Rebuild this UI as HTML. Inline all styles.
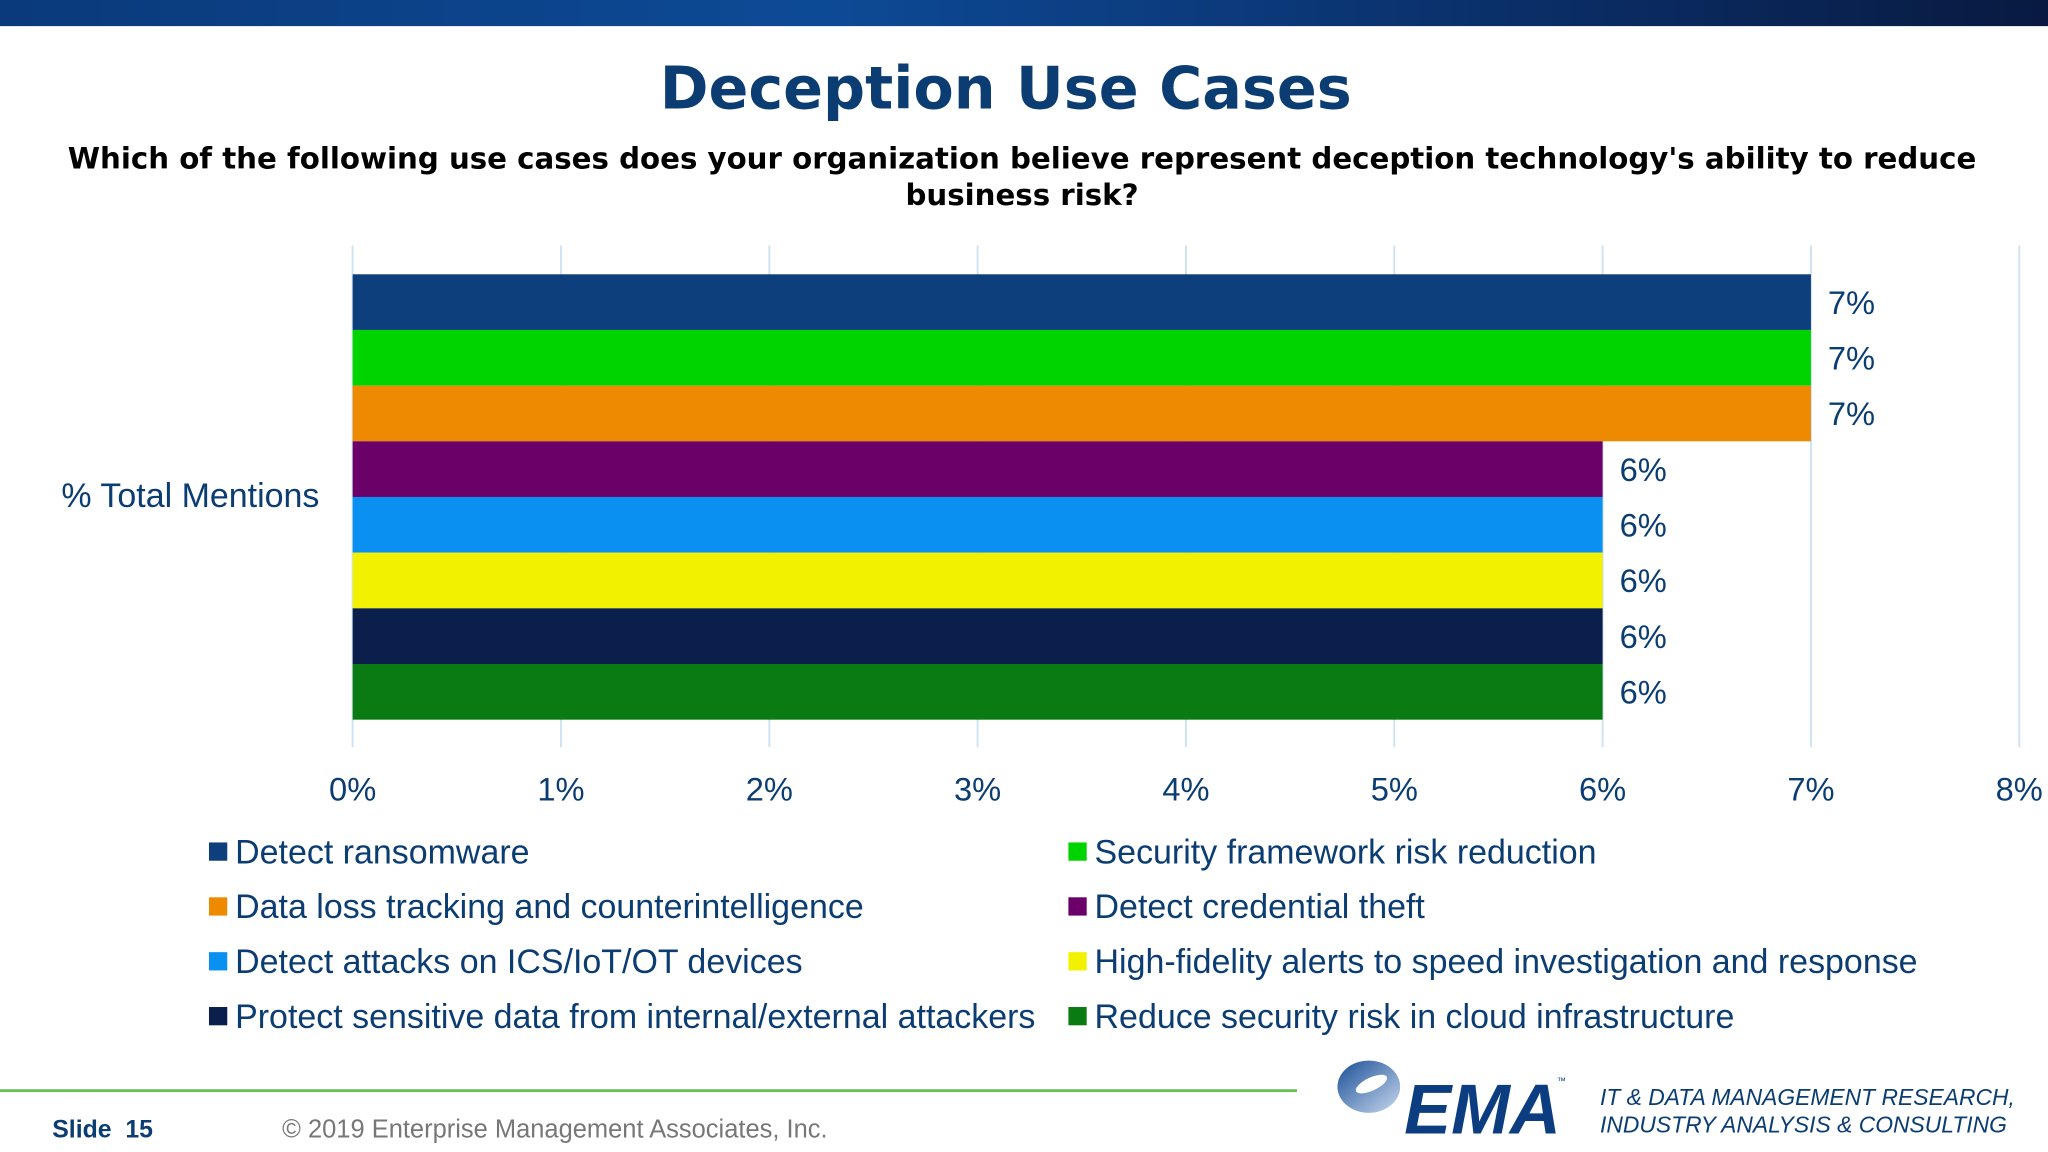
<!DOCTYPE html>
<html><head><meta charset="utf-8">
<style>
html,body{margin:0;padding:0;background:#fff;overflow:hidden;width:2048px;height:1152px}
#stage{position:absolute;left:0;top:0;width:1568px;height:882px;transform:scale(1.30612);transform-origin:0 0;font-family:"Liberation Sans",sans-serif}
.abs{position:absolute;white-space:nowrap}
</style></head>
<body>
<div id="stage">
  <div class="abs" style="left:0;top:0;width:1568px;height:20px;background:linear-gradient(90deg,#0a3a7a,#0d4a96 40%,#0a2a60 80%,#081a40)"></div>
  <div class="abs" style="left:0;width:1540px;top:41px;text-align:center;font-family:'DejaVu Sans',sans-serif;font-size:45px;font-weight:bold;color:#0b3d73">Deception Use Cases</div>
  <div class="abs" style="left:20px;width:1525px;top:108px;text-align:center;font-family:'DejaVu Sans',sans-serif;font-size:22.4px;font-weight:bold;color:#000;white-space:normal;line-height:28px">Which of the following use cases does your organization believe represent deception technology's ability to reduce business risk?</div>
  <div class="abs" style="left:47px;top:364px;font-size:26px;color:#0b3d73">% Total Mentions</div>
  <svg class="abs" id="chart" style="left:0;top:0" width="1568" height="640"></svg>
  <div class="abs" id="legend" style="left:0;top:0"></div>
  <div class="abs" style="left:0;top:834px;width:993px;height:2px;background:#5cc24a"></div>
  <div class="abs" style="left:40px;top:855px;font-size:19px;font-weight:bold;color:#0b3d73">Slide&nbsp; 15</div>
  <div class="abs" style="left:216px;top:854px;font-size:19.5px;color:#777">© 2019 Enterprise Management Associates, Inc.</div>
  <svg class="abs" style="left:1020px;top:808px" width="185" height="66">
    <defs><linearGradient id="lg" x1="0" y1="0" x2="1" y2="1"><stop offset="0" stop-color="#1a4f96"/><stop offset="1" stop-color="#c8d8ee"/></linearGradient></defs>
    <ellipse cx="28" cy="24" rx="24" ry="20" fill="url(#lg)"/>
    <ellipse cx="30" cy="22" rx="13" ry="5" fill="#fff" transform="rotate(-25 30 22)"/>
    <text x="55" y="60" font-family="Liberation Sans,sans-serif" font-size="54" font-weight="bold" font-style="italic" fill="#0b3d80" textLength="120" lengthAdjust="spacingAndGlyphs">EMA</text>
    <text x="172" y="22" font-family="Liberation Sans,sans-serif" font-size="7" fill="#0b3d80">™</text>
  </svg>
  <div class="abs" style="left:1225px;top:830px;font-size:17.5px;font-style:italic;color:#0b3d73;line-height:21px">IT &amp; DATA MANAGEMENT RESEARCH,<br>INDUSTRY ANALYSIS &amp; CONSULTING</div>
</div>
<script>
const categories=["Detect ransomware","Security framework risk reduction","Data loss tracking and counterintelligence","Detect credential theft","Detect attacks on ICS/IoT/OT devices","High-fidelity alerts to speed investigation and response","Protect sensitive data from internal/external attackers","Reduce security risk in cloud infrastructure"];
const values=[7,7,7,6,6,6,6,6];
const valueLabels=["7%","7%","7%","6%","6%","6%","6%","6%"];
const ticks=[0,1,2,3,4,5,6,7,8];
const colors=["#0d3f7c","#00d400","#ee8a00","#6a0068","#0a90f0","#f2f200","#0a1f4c","#0a7a12"];
const NS="http://www.w3.org/2000/svg";
const svg=document.getElementById('chart');
const x0=270,x1=1546,xmax=8,top0=210,bot=551;
const xs=v=>x0+(v/xmax)*(x1-x0);
const bh=(bot-top0)/values.length;
ticks.forEach(t=>{
  const l=document.createElementNS(NS,'line');
  
  
  l.setAttribute('x1',xs(t));l.setAttribute('x2',xs(t));l.setAttribute('y1',188);l.setAttribute('y2',572);
  l.setAttribute('stroke','#cfe3f3');l.setAttribute('stroke-width','1.5');svg.appendChild(l);
  const tx=document.createElementNS(NS,'text');
  
  
  tx.setAttribute('x',xs(t));tx.setAttribute('y',613);tx.setAttribute('text-anchor','middle');
  tx.setAttribute('font-size','25');tx.setAttribute('fill','#0b3d73');tx.textContent=t+'%';svg.appendChild(tx);
});
values.forEach((v,i)=>{
  const r=document.createElementNS(NS,'rect');
  
  
  r.setAttribute('x',x0);r.setAttribute('y',top0+i*bh);r.setAttribute('width',xs(v)-x0);r.setAttribute('height',bh);
  r.setAttribute('fill',colors[i]);svg.appendChild(r);
  const tx=document.createElementNS(NS,'text');
  
  
  tx.setAttribute('x',xs(v)+13);tx.setAttribute('y',top0+i*bh+bh/2+9);
  tx.setAttribute('font-size','25');tx.setAttribute('fill','#0b3d73');tx.textContent=valueLabels[i];svg.appendChild(tx);
});
const lg=document.getElementById('legend');
categories.forEach((c,i)=>{
  const col=i%2,row=Math.floor(i/2);
  const e=document.createElement('div');
  
  
  e.className='abs';
  e.style.left=(col?818:160)+'px';e.style.top=(637+row*42)+'px';
  e.style.fontSize='26px';e.style.color='#0b3d73';
  e.innerHTML='<span style="display:inline-block;width:14px;height:14px;background:'+colors[i]+';margin-right:6px;vertical-align:2px"></span>'+c;
  lg.appendChild(e);
});
</script>
</body></html>
